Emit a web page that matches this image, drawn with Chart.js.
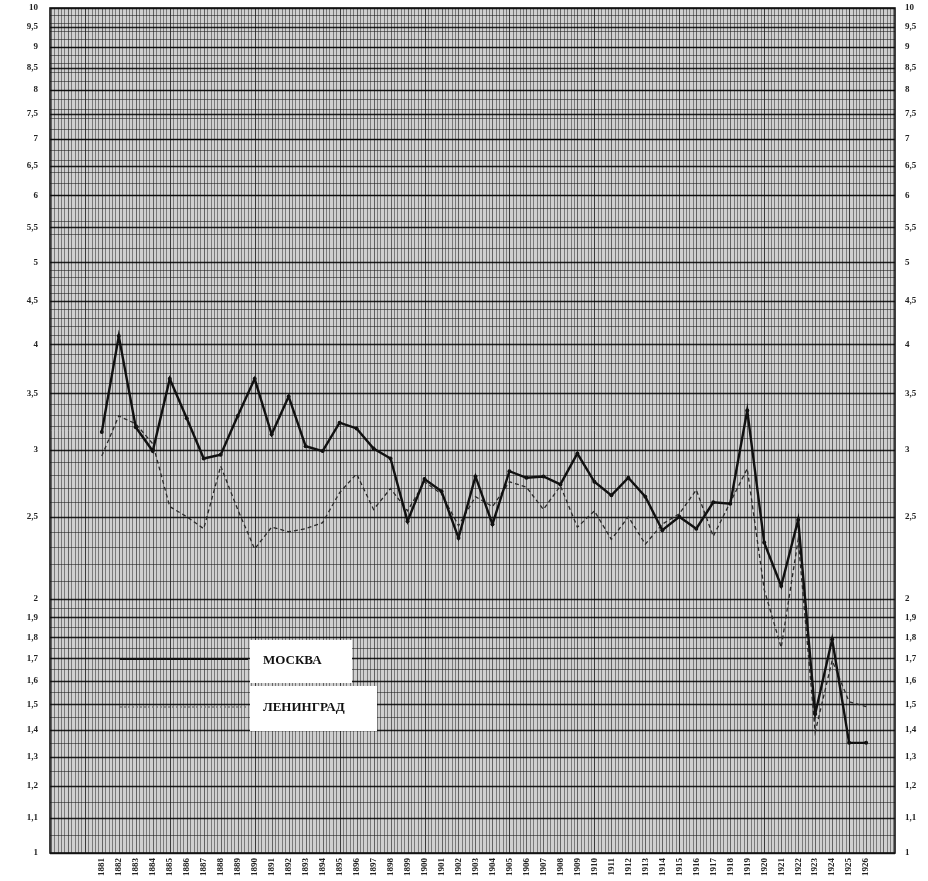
<!DOCTYPE html>
<html>
<head>
<meta charset="utf-8">
<script src="https://cdn.jsdelivr.net/npm/chart.js@4.4.1/dist/chart.umd.min.js"></script>
<style>
  html, body { margin: 0; padding: 0; background: #fff; }
  #wrap { width: 928px; height: 881px; }
</style>
</head>
<body>
<div id="wrap"><canvas id="chart" width="928" height="881"></canvas></div>
<script>
// years on the x axis
const years = [1881, 1882, 1883, 1884, 1885, 1886, 1887, 1888, 1889, 1890,
               1891, 1892, 1893, 1894, 1895, 1896, 1897, 1898, 1899, 1900,
               1901, 1902, 1903, 1904, 1905, 1906, 1907, 1908, 1909, 1910,
               1911, 1912, 1913, 1914, 1915, 1916, 1917, 1918, 1919, 1920,
               1921, 1922, 1923, 1924, 1925, 1926];

// values
const moscow = [3.15, 4.09, 3.19, 2.99, 3.64, 3.27, 2.93, 2.96, 3.29, 3.64,
                3.13, 3.47, 3.03, 2.99, 3.23, 3.18, 3.01, 2.93, 2.47, 2.77,
                2.68, 2.36, 2.79, 2.45, 2.83, 2.78, 2.79, 2.73, 2.97, 2.75,
                2.65, 2.78, 2.64, 2.41, 2.50, 2.42, 2.60, 2.59, 3.34, 2.33,
                2.07, 2.48, 1.46, 1.79, 1.35, 1.35];

const leningrad = [2.95, 3.29, 3.22, 3.05, 2.57, 2.50, 2.42, 2.87, 2.55, 2.29,
                   2.43, 2.40, 2.42, 2.46, 2.67, 2.81, 2.55, 2.70, 2.54, 2.75,
                   2.66, 2.44, 2.64, 2.57, 2.75, 2.71, 2.55, 2.72, 2.43, 2.54,
                   2.35, 2.50, 2.32, 2.45, 2.52, 2.69, 2.37, 2.60, 2.85, 2.05,
                   1.75, 2.35, 1.39, 1.69, 1.51, 1.49];

const seriesNames = ["МОСКВА", "ЛЕНИНГРАД"];

// y tick values of the log paper
const yTicks = [1, 1.1, 1.2, 1.3, 1.4, 1.5, 1.6, 1.7, 1.8, 1.9, 2, 2.5, 3, 3.5,
                4, 4.5, 5, 5.5, 6, 6.5, 7, 7.5, 8, 8.5, 9, 9.5, 10];

const serif = "'Liberation Serif', 'DejaVu Serif', serif";

function fmt(v) {
    return String(v).replace(".", ",");
}

// graph paper background drawn from the scales
const paperPlugin = {
    id: "paper",
    beforeDatasetsDraw(chart) {
        const ctx = chart.ctx;
        const a = chart.chartArea;
        const xs = chart.scales.x;
        const ys = chart.scales.y;
        ctx.save();
        ctx.fillStyle = "#cfcfcf";
        ctx.fillRect(a.left, a.top, a.right - a.left, a.bottom - a.top);

        // fine vertical lines, five to a year
        for (let i = 0; ; i++) {
            const v = Math.floor(xs.min) + i * 0.2;
            if (v > xs.max) break;
            if (v < xs.min) continue;
            const px = Math.round(xs.getPixelForValue(v)) + 0.5;
            const whole = Math.abs(v - Math.round(v)) < 1e-6;
            const five = whole && Math.round(v) % 5 === 0;
            ctx.strokeStyle = five ? "rgba(10,10,10,0.75)" : (whole ? "rgba(25,25,25,0.6)" : "rgba(30,30,30,0.48)");
            ctx.lineWidth = 1;
            ctx.beginPath();
            ctx.moveTo(px, a.top);
            ctx.lineTo(px, a.bottom);
            ctx.stroke();
        }

        // fine horizontal lines
        const drawH = (v, major) => {
            const py = Math.round(ys.getPixelForValue(v)) + 0.5;
            ctx.strokeStyle = major ? "rgba(0,0,0,0.85)" : "rgba(25,25,25,0.55)";
            ctx.lineWidth = major ? 1.3 : 1;
            ctx.beginPath();
            ctx.moveTo(a.left, py);
            ctx.lineTo(a.right, py);
            ctx.stroke();
        };
        for (let k = 1; k < 20; k += 2) drawH(1 + k * 0.05, false);
        for (let k = 1; k < 30; k++) if (k % 5) drawH(2 + k * 0.1, false);
        for (let k = 1; k < 25; k++) drawH(5 + k * 0.2, false);
        yTicks.forEach(v => drawH(v, true));

        ctx.strokeStyle = "#111";
        ctx.lineWidth = 1.6;
        ctx.strokeRect(a.left, a.top, a.right - a.left, a.bottom - a.top);
        ctx.restore();
    }
};

// legend boxes placed on the paper
const legendPlugin = {
    id: "paperLegend",
    afterDatasetsDraw(chart) {
        const ctx = chart.ctx;
        ctx.save();
        ctx.fillStyle = "#fff";
        ctx.fillRect(250, 640, 102, 43);
        ctx.fillRect(250, 686, 127, 45);

        ctx.strokeStyle = "#111";
        ctx.lineWidth = 2.2;
        ctx.beginPath();
        ctx.moveTo(120, 659);
        ctx.lineTo(248, 659);
        ctx.stroke();

        ctx.strokeStyle = "#777";
        ctx.lineWidth = 1.4;
        ctx.setLineDash([2, 2]);
        ctx.beginPath();
        ctx.moveTo(120, 707);
        ctx.lineTo(248, 707);
        ctx.stroke();
        ctx.setLineDash([]);

        ctx.fillStyle = "#111";
        ctx.font = "bold 13px " + serif;
        ctx.textBaseline = "middle";
        ctx.fillText(seriesNames[0], 263, 661);
        ctx.fillText(seriesNames[1], 263, 708);
        ctx.restore();
    }
};

const yAxis = (pos, width, pad) => ({
    type: "logarithmic",
    position: pos,
    min: 1,
    max: 10,
    afterBuildTicks: s => { s.ticks = yTicks.map(v => ({ value: v })); },
    afterFit: s => {
        s.width = width;
        s.paddingTop = 0;
        s.paddingBottom = 0;
    },
    grid: { display: false, drawTicks: false },
    border: { display: false },
    ticks: {
        autoSkip: false,
        padding: pad,
        color: "#222",
        font: { family: serif, size: 9, weight: "bold" },
        callback: v => fmt(v)
    }
});

new Chart(document.getElementById("chart"), {
    type: "line",
    data: {
        datasets: [
            {
                label: seriesNames[0],
                data: years.map((y, i) => ({ x: y, y: moscow[i] })),
                borderColor: "#111",
                borderWidth: 2.4,
                pointRadius: 2,
                pointBackgroundColor: "#111",
                pointBorderWidth: 0,
                tension: 0,
                yAxisID: "y"
            },
            {
                label: seriesNames[1],
                data: years.map((y, i) => ({ x: y, y: leningrad[i] })),
                borderColor: "#2a2a2a",
                borderWidth: 1.3,
                borderDash: [4, 3],
                pointRadius: 0,
                tension: 0,
                yAxisID: "y"
            }
        ]
    },
    options: {
        responsive: false,
        animation: false,
        layout: { padding: { top: 8, right: 0, left: 0, bottom: 0 } },
        plugins: {
            legend: { display: false },
            tooltip: { enabled: false }
        },
        scales: {
            x: {
                type: "linear",
                min: 1877.95,
                max: 1927.7,
                afterBuildTicks: s => { s.ticks = years.map(v => ({ value: v })); },
                afterFit: s => {
                    s.height = 28;
                    s.paddingLeft = 0;
                    s.paddingRight = 0;
                },
                grid: { display: false, drawTicks: false },
                border: { display: false },
                ticks: {
                    autoSkip: false,
                    minRotation: 90,
                    maxRotation: 90,
                    padding: 5,
                    color: "#222",
                    font: { family: serif, size: 9, weight: "bold" },
                    callback: v => String(v)
                }
            },
            y: yAxis("left", 50, 12),
            y2: yAxis("right", 33, 10)
        }
    },
    plugins: [paperPlugin, legendPlugin]
});
</script>
</body>
</html>
